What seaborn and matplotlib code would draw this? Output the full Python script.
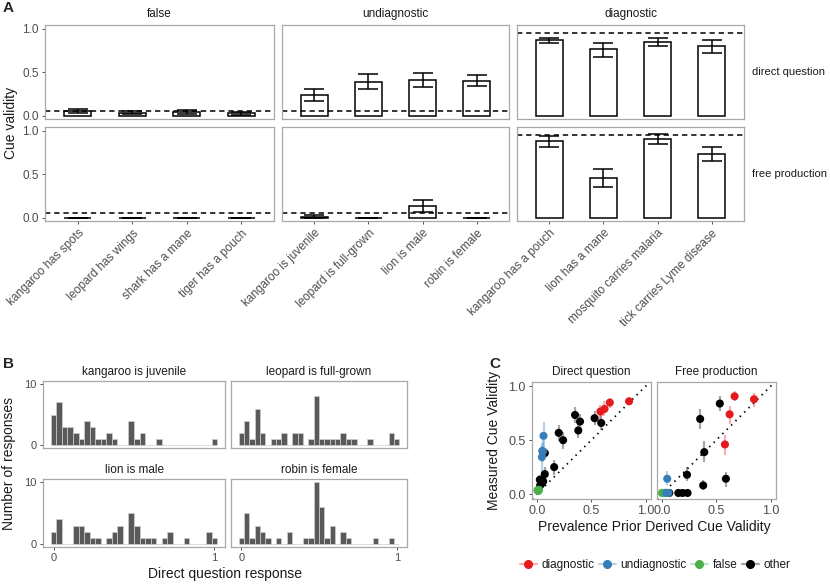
import numpy as np
import pandas as pd
import matplotlib
matplotlib.use("Agg")
import matplotlib.pyplot as plt
from matplotlib.lines import Line2D
import seaborn as sns

sns.set_theme(style="white")
plt.rcParams["font.family"] = ["Liberation Sans", "DejaVu Sans"]

# ---------------------------------------------------------------------------
# Panel A: cue validity per property, by cue type and measure
# ---------------------------------------------------------------------------
cue_types = ["false", "undiagnostic", "diagnostic"]
a_labels = ["kangaroo has spots", "leopard has wings", "shark has a mane", "tiger has a pouch",
            "kangaroo is juvenile", "leopard is full-grown", "lion is male", "robin is female",
            "kangaroo has a pouch", "lion has a mane", "mosquito carries malaria", "tick carries Lyme disease"]
a_type = ["false", "false", "false", "false",
          "undiagnostic", "undiagnostic", "undiagnostic", "undiagnostic",
          "diagnostic", "diagnostic", "diagnostic", "diagnostic"]
dq_mean = [0.055, 0.035, 0.04, 0.03, 0.24, 0.39, 0.41, 0.40, 0.87, 0.77, 0.85, 0.80]
dq_lo = [0.035, 0.02, 0.02, 0.015, 0.17, 0.31, 0.33, 0.34, 0.84, 0.68, 0.80, 0.72]
dq_hi = [0.08, 0.055, 0.065, 0.05, 0.31, 0.48, 0.49, 0.47, 0.90, 0.84, 0.90, 0.87]
fp_mean = [0.0, 0.0, 0.0, 0.0, 0.01, 0.0, 0.14, 0.0, 0.88, 0.46, 0.91, 0.74]
fp_lo = [0.0, 0.0, 0.0, 0.0, 0.0, 0.0, 0.07, 0.0, 0.815, 0.36, 0.85, 0.65]
fp_hi = [0.0, 0.0, 0.0, 0.0, 0.035, 0.0, 0.21, 0.0, 0.94, 0.56, 0.96, 0.82]
prior_dq = [0.06, 0.06, 0.95]
prior_fp = [0.06, 0.06, 0.955]
measures = ["direct question", "free production"]

# ---------------------------------------------------------------------------
# Panel B: histograms of direct question responses (30 bins over 0..1)
# ---------------------------------------------------------------------------
hist_items = ["kangaroo is juvenile", "leopard is full-grown", "lion is male", "robin is female"]
counts_kangaroo = [5, 7, 3, 3, 2, 1, 4, 3, 1, 1, 2, 1, 0, 0, 4, 1, 2, 0, 0, 1, 0, 0, 0, 0, 0, 0, 0, 0, 0, 1]
counts_leopard = [2, 4, 1, 6, 2, 0, 1, 1, 2, 0, 2, 2, 0, 1, 8, 1, 1, 1, 1, 2, 1, 1, 0, 0, 1, 0, 0, 0, 2, 1]
counts_lion = [2, 4, 0, 0, 3, 3, 2, 1, 1, 0, 1, 2, 3, 0, 5, 3, 1, 1, 1, 0, 1, 2, 0, 0, 1, 0, 0, 0, 2, 1]
counts_robin = [1, 5, 1, 3, 2, 1, 0, 1, 0, 2, 0, 0, 1, 1, 10, 6, 1, 3, 0, 2, 1, 0, 0, 0, 0, 1, 0, 0, 1, 0]

# ---------------------------------------------------------------------------
# Panel C: measured vs prevalence-prior derived cue validity
# ---------------------------------------------------------------------------
c_dq_type = ["other"] * 14 + ["false"] * 4 + ["undiagnostic"] * 4 + ["diagnostic"] * 4
c_dq_x = [0.351, 0.397, 0.381, 0.201, 0.241, 0.531, 0.592, 0.073, 0.159, 0.073, 0.027, 0.058, 0.03, 0.045,
          0.012, 0.02, 0.005, 0.015,
          0.061, 0.055, 0.046, 0.05,
          0.585, 0.622, 0.671, 0.848]
c_dq_y = [0.734, 0.673, 0.59, 0.568, 0.50, 0.704, 0.66, 0.38, 0.25, 0.185, 0.133, 0.117, 0.08, 0.10,
          0.03, 0.04, 0.035, 0.03,
          0.54, 0.395, 0.343, 0.40,
          0.766, 0.79, 0.849, 0.861]
c_dq_lo = [0.66, 0.60, 0.52, 0.49, 0.42, 0.64, 0.59, 0.33, 0.18, 0.13, 0.09, 0.07, 0.04, 0.06,
           0.015, 0.02, 0.02, 0.015,
           0.41, 0.30, 0.15, 0.32,
           0.70, 0.72, 0.80, 0.83]
c_dq_hi = [0.81, 0.74, 0.66, 0.64, 0.58, 0.77, 0.73, 0.43, 0.32, 0.25, 0.18, 0.17, 0.12, 0.14,
           0.05, 0.06, 0.055, 0.045,
           0.67, 0.50, 0.45, 0.47,
           0.83, 0.86, 0.89, 0.89]

c_fp_type = ["other"] * 11 + ["false"] * 3 + ["undiagnostic"] * 4 + ["diagnostic"] * 4
c_fp_x = [0.533, 0.352, 0.39, 0.231, 0.38, 0.589, 0.068, 0.151, 0.19, 0.236, 0.03,
          0.0, 0.01, 0.02,
          0.049, 0.052, 0.06, 0.04,
          0.669, 0.848, 0.623, 0.58]
c_fp_y = [0.84, 0.697, 0.389, 0.179, 0.08, 0.142, 0.01, 0.01, 0.01, 0.01, 0.01,
          0.01, 0.01, 0.01,
          0.142, 0.01, 0.01, 0.01,
          0.907, 0.88, 0.74, 0.46]
c_fp_lo = [0.77, 0.60, 0.30, 0.12, 0.04, 0.07, 0.0, 0.0, 0.0, 0.0, 0.0,
           0.0, 0.0, 0.0,
           0.08, 0.0, 0.0, 0.0,
           0.86, 0.81, 0.65, 0.36]
c_fp_hi = [0.91, 0.79, 0.49, 0.25, 0.13, 0.20, 0.03, 0.02, 0.02, 0.02, 0.02,
           0.01, 0.01, 0.01,
           0.21, 0.03, 0.02, 0.02,
           0.96, 0.94, 0.82, 0.55]

type_order = ["diagnostic", "undiagnostic", "false", "other"]
type_colors = {"diagnostic": "#E41A1C", "undiagnostic": "#377EB8", "false": "#4DAF4A", "other": "#000000"}

# ---------------------------------------------------------------------------
W, H = 830, 584
fig = plt.figure(figsize=(W / 100, H / 100), dpi=100)

def px_axes(x0, y0, x1, y1):
    return fig.add_axes([x0 / W, 1 - y1 / H, (x1 - x0) / W, (y1 - y0) / H])

def style(ax, size=8.5):
    for s in ax.spines.values():
        s.set_color("#a8a8a8")
        s.set_linewidth(0.9)
    ax.tick_params(bottom=True, left=True, length=2.5, width=0.7, color="#4d4d4d",
                   labelcolor="#4d4d4d", labelsize=size, pad=2)
    ax.set_xlabel("")
    ax.set_ylabel("")

TXT = "#1a1a1a"

# ---- Panel A
dfA = pd.DataFrame({"label": a_labels, "type": a_type,
                    "dq": dq_mean, "dq_lo": dq_lo, "dq_hi": dq_hi,
                    "fp": fp_mean, "fp_lo": fp_lo, "fp_hi": fp_hi})
a_cols = [(45, 274), (282, 509), (517, 744)]
a_rows = [(25, 119), (127, 221)]
for r, (m, prior) in enumerate([("dq", prior_dq), ("fp", prior_fp)]):
    for c, t in enumerate(cue_types):
        ax = px_axes(a_cols[c][0], a_rows[r][0], a_cols[c][1], a_rows[r][1])
        sub = dfA[dfA["type"] == t].reset_index(drop=True)
        sns.barplot(data=sub, x="label", y=m, ax=ax, color="white", edgecolor="black",
                    linewidth=1.1, width=0.5, errorbar=None, saturation=1)
        ax.errorbar(np.arange(len(sub)), sub[m],
                    yerr=[sub[m] - sub[m + "_lo"], sub[m + "_hi"] - sub[m]],
                    fmt="none", ecolor="black", elinewidth=1.1, capsize=7.5, capthick=1.1)
        ax.axhline(prior[c], color="black", lw=1.1, ls="--", dashes=(3.5, 2.5))
        ax.set_xlim(-0.6, 3.6)
        ax.set_ylim(-0.035, 1.045)
        style(ax)
        ax.set_yticks([0, 0.5, 1.0])
        ax.set_yticklabels(["0.0", "0.5", "1.0"])
        if c > 0:
            ax.tick_params(left=False, labelleft=False)
        if r == 0:
            ax.tick_params(bottom=False, labelbottom=False)
            ax.set_title(t, fontsize=8.5, color=TXT, pad=6)
        else:
            ax.set_xticks(range(len(sub)))
            ax.set_xticklabels(sub["label"], rotation=45, ha="right", rotation_mode="anchor")
        if c == 2:
            ax.text(1.035, 0.5, measures[r], transform=ax.transAxes, fontsize=8,
                    color=TXT, va="center", ha="left")

fig.text(11 / W, 1 - 123 / H, "Cue validity", rotation=90, fontsize=10, color=TXT,
         ha="center", va="center")
fig.text(3 / W, 1 - 8 / H, "A", fontsize=11, fontweight="bold", ha="left", va="center")

# ---- Panel B
centers = np.arange(30) / 29
b_counts = [counts_kangaroo, counts_leopard, counts_lion, counts_robin]
b_cols = [(43, 225), (231, 407)]
b_rows = [(381, 448), (479, 547)]
for i, (item, cnt) in enumerate(zip(hist_items, b_counts)):
    r, c = divmod(i, 2)
    ax = px_axes(b_cols[c][0], b_rows[r][0], b_cols[c][1], b_rows[r][1])
    hd = pd.DataFrame({"response": centers, "n": cnt})
    sns.histplot(data=hd, x="response", weights="n", bins=30,
                 binrange=(-0.5 / 29, 29.5 / 29), ax=ax, color="#595959",
                 edgecolor="#cfcfcf", linewidth=0.5, alpha=1)
    ax.set_xlim(-0.066, 1.066)
    ax.set_ylim(-0.45, 10.5)
    style(ax, 8)
    ax.set_yticks([0, 10])
    ax.set_xticks([0, 1])
    ax.set_title(item, fontsize=8.5, color=TXT, pad=4)
    if r == 0:
        ax.tick_params(bottom=False, labelbottom=False)
    if c == 1:
        ax.tick_params(left=False, labelleft=False)

fig.text(9 / W, 1 - 464 / H, "Number of responses", rotation=90, fontsize=10, color=TXT,
         ha="center", va="center")
fig.text(225 / W, 1 - 574 / H, "Direct question response", fontsize=10, color=TXT,
         ha="center", va="center")
fig.text(3 / W, 1 - 364 / H, "B", fontsize=11, fontweight="bold", ha="left", va="center")

# ---- Panel C
dfC_dq = pd.DataFrame({"type": c_dq_type, "x": c_dq_x, "y": c_dq_y, "lo": c_dq_lo, "hi": c_dq_hi})
dfC_fp = pd.DataFrame({"type": c_fp_type, "x": c_fp_x, "y": c_fp_y, "lo": c_fp_lo, "hi": c_fp_hi})
c_cols = [(532, 651), (657, 776)]
for c, (title, d) in enumerate([("Direct question", dfC_dq), ("Free production", dfC_fp)]):
    ax = px_axes(c_cols[c][0], 382, c_cols[c][1], 499)
    ax.axline((0, 0), slope=1, color="black", lw=1.3, ls=(0, (0.8, 2.6)), zorder=1)
    ax.vlines(d["x"], d["lo"], d["hi"], colors=[type_colors[t] for t in d["type"]],
              alpha=0.35, lw=1.6, zorder=2)
    sns.scatterplot(data=d, x="x", y="y", hue="type", hue_order=type_order,
                    palette=type_colors, s=34, edgecolor="none", legend=False, ax=ax, zorder=3)
    ax.set_xlim(-0.045, 1.05)
    ax.set_ylim(-0.046, 1.04)
    style(ax, 9)
    ax.set_xticks([0, 0.5, 1.0])
    ax.set_xticklabels(["0.0", "0.5", "1.0"])
    ax.set_yticks([0, 0.5, 1.0])
    ax.set_yticklabels(["0.0", "0.5", "1.0"])
    ax.set_title(title, fontsize=8.5, color=TXT, pad=5)
    if c == 1:
        ax.tick_params(left=False, labelleft=False)

fig.text(494 / W, 1 - 440 / H, "Measured Cue Validity", rotation=90, fontsize=10, color=TXT,
         ha="center", va="center")
fig.text(654 / W, 1 - 527 / H, "Prevalence Prior Derived Cue Validity", fontsize=10, color=TXT,
         ha="center", va="center")
fig.text(489 / W, 1 - 364 / H, "C", fontsize=11, fontweight="bold", ha="left", va="center")

handles = []
for t in type_order:
    rgb = matplotlib.colors.to_rgb(type_colors[t])
    handles.append(Line2D([0], [0], color=(*rgb, 0.35), lw=1.6, marker="o", markersize=5.5,
                          markerfacecolor=type_colors[t], markeredgecolor=type_colors[t]))
fig.legend(handles, type_order, loc="center", bbox_to_anchor=(655 / W, 1 - 565 / H), ncol=4,
           frameon=False, fontsize=8.5, handlelength=1.45, handletextpad=0.4,
           columnspacing=0.35, labelcolor=TXT)

fig.savefig("out.png", dpi=100)
